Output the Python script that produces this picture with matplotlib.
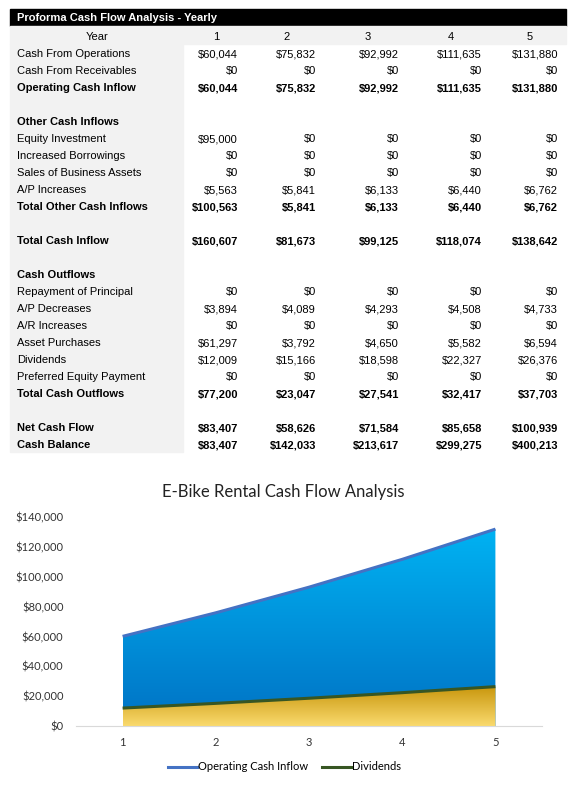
import numpy as np
import matplotlib; matplotlib.use("Agg")
import matplotlib.pyplot as plt
from matplotlib.patches import Rectangle, PathPatch
from matplotlib.colors import LinearSegmentedColormap
from matplotlib.lines import Line2D
from matplotlib.ticker import FuncFormatter

# ---- data ----
years = [1, 2, 3, 4, 5]
cash_from_operations = [60044, 75832, 92992, 111635, 131880]
cash_from_receivables = [0, 0, 0, 0, 0]
operating_cash_inflow = [60044, 75832, 92992, 111635, 131880]
equity_investment = [95000, 0, 0, 0, 0]
increased_borrowings = [0, 0, 0, 0, 0]
sales_of_business_assets = [0, 0, 0, 0, 0]
ap_increases = [5563, 5841, 6133, 6440, 6762]
total_other_cash_inflows = [100563, 5841, 6133, 6440, 6762]
total_cash_inflow = [160607, 81673, 99125, 118074, 138642]
repayment_of_principal = [0, 0, 0, 0, 0]
ap_decreases = [3894, 4089, 4293, 4508, 4733]
ar_increases = [0, 0, 0, 0, 0]
asset_purchases = [61297, 3792, 4650, 5582, 6594]
dividends = [12009, 15166, 18598, 22327, 26376]
preferred_equity_payment = [0, 0, 0, 0, 0]
total_cash_outflows = [77200, 23047, 27541, 32417, 37703]
net_cash_flow = [83407, 58626, 71584, 85658, 100939]
cash_balance = [83407, 142033, 213617, 299275, 400213]

# (label, values, bold) ; None values -> section/blank row
table_rows = [
    ("Cash From Operations", cash_from_operations, False),
    ("Cash From Receivables", cash_from_receivables, False),
    ("Operating Cash Inflow", operating_cash_inflow, True),
    ("", None, False),
    ("Other Cash Inflows", None, True),
    ("Equity Investment", equity_investment, False),
    ("Increased Borrowings", increased_borrowings, False),
    ("Sales of Business Assets", sales_of_business_assets, False),
    ("A/P Increases", ap_increases, False),
    ("Total Other Cash Inflows", total_other_cash_inflows, True),
    ("", None, False),
    ("Total Cash Inflow", total_cash_inflow, True),
    ("", None, False),
    ("Cash Outflows", None, True),
    ("Repayment of Principal", repayment_of_principal, False),
    ("A/P Decreases", ap_decreases, False),
    ("A/R Increases", ar_increases, False),
    ("Asset Purchases", asset_purchases, False),
    ("Dividends", dividends, False),
    ("Preferred Equity Payment", preferred_equity_payment, False),
    ("Total Cash Outflows", total_cash_outflows, True),
    ("", None, False),
    ("Net Cash Flow", net_cash_flow, True),
    ("Cash Balance", cash_balance, True),
]

W, H = 581, 789
fig = plt.figure(figsize=(W / 100, H / 100), dpi=100)

# ---- table drawn in pixel coordinates ----
tab = fig.add_axes([0, 0, 1, 1])
tab.set_xlim(0, W); tab.set_ylim(H, 0); tab.axis("off")
TF = "Liberation Sans"
tab.add_patch(Rectangle((10, 9), 556, 17, color="black"))
tab.add_patch(Rectangle((10, 26), 556, 17.5, color="#F2F2F2"))
tab.add_patch(Rectangle((10, 43.5), 173, 408, color="#F2F2F2"))
tab.text(17, 18, "Proforma Cash Flow Analysis - Yearly", color="white", fontsize=8,
         fontweight="bold", family=TF, va="center")
tab.text(97, 37, "Year", fontsize=8, family=TF, ha="center", va="center")
head_x = [213, 283, 365, 448, 527]
val_right = [238, 316, 399, 482, 558]
for hx, yr in zip(head_x, years):
    tab.text(hx, 37, str(yr), fontsize=8, family=TF, ha="left", va="center")
for i, (label, vals, bold) in enumerate(table_rows):
    y = 54 + 17 * i
    w = "bold" if bold else "normal"
    tab.text(17, y, label, fontsize=8, family=TF, fontweight=w, va="center")
    if vals is not None:
        for xr, v in zip(val_right, vals):
            tab.text(xr, y, f"${v:,.0f}", fontsize=8, family=TF, fontweight=w,
                     ha="right", va="center")

# ---- chart ----
CF = "Lato"
ax = fig.add_axes([76 / W, (H - 726) / H, 466 / W, (726 - 517) / H])
x = np.array(years, dtype=float)
op = np.array(operating_cash_inflow, dtype=float)
dv = np.array(dividends, dtype=float)


def gradient_area(ax, x, y, c_top, c_bottom, z):
    poly = ax.fill_between(x, 0, y, facecolor="none", edgecolor="none")
    patch = PathPatch(poly.get_paths()[0], transform=ax.transData,
                      facecolor="none", edgecolor="none")
    ax.add_patch(patch)
    cmap = LinearSegmentedColormap.from_list("g", [c_bottom, c_top])
    grad = np.linspace(0, 1, 256).reshape(-1, 1)
    im = ax.imshow(grad, extent=[x.min(), x.max(), 0, y.max()], origin="lower",
                   aspect="auto", cmap=cmap, zorder=z)
    im.set_clip_path(patch)


gradient_area(ax, x, op, "#00B2F2", "#0072C4", 1)
gradient_area(ax, x, dv, "#C8960C", "#FADA6E", 2)
ax.plot(x, op, color="#4472C4", lw=2.2, zorder=3, solid_capstyle="butt")
ax.plot(x, dv, color="#375623", lw=2.2, zorder=3, solid_capstyle="butt")

ax.set_xlim(0.5, 5.5)
ax.set_ylim(0, 140000)
ax.set_xticks(years)
ax.set_yticks(np.arange(0, 140001, 20000))
ax.yaxis.set_major_formatter(FuncFormatter(lambda v, p: f"${v:,.0f}"))
for s in ["top", "right", "left"]:
    ax.spines[s].set_visible(False)
ax.spines["bottom"].set_color("#D9D9D9")
ax.tick_params(length=0, labelsize=8, colors="#333333")
ax.tick_params(axis="x", pad=8)
ax.tick_params(axis="y", pad=9)
for lab in ax.get_xticklabels() + ax.get_yticklabels():
    lab.set_family(CF)

fig.text(283.5 / W, 1 - 492 / H, "E-Bike Rental Cash Flow Analysis", ha="center",
         va="center", fontsize=12, family=CF, color="#222222")

handles = [Line2D([], [], color="#4472C4", lw=2.2),
           Line2D([], [], color="#375623", lw=2.2)]
fig.legend(handles, ["Operating Cash Inflow", "Dividends"], loc="center",
           bbox_to_anchor=(284.5 / W, 1 - 767 / H), ncol=2, frameon=False,
           prop={"family": CF, "size": 8}, handlelength=2.6, handletextpad=0.05,
           columnspacing=1.3)

fig.savefig("out.png", dpi=100)
